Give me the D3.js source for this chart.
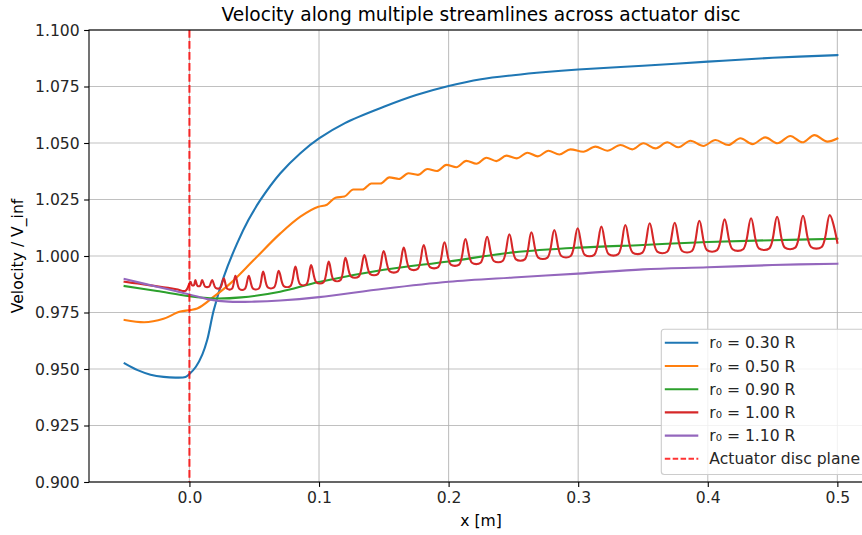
<!DOCTYPE html>
<html>
<head>
<meta charset="utf-8">
<script src="https://cdn.jsdelivr.net/npm/d3@7"></script>
<style>
  body { margin: 0; background: #fff; }
  svg { display: block; font-family: 'DejaVu Sans', sans-serif; }
</style>
</head>
<body>
<script>
(function (d3) {
  'use strict';

  // ---- data (x in m, velocity / V_inf) ----
  const blueX = [-0.05, -0.04, -0.03, -0.02, -0.01, -0.003, 0.0, 0.005, 0.01, 0.0137, 0.0188, 0.0265, 0.0368, 0.0455, 0.0548, 0.07, 0.0856, 0.1, 0.12, 0.15, 0.175, 0.2, 0.225, 0.25, 0.275, 0.3, 0.35, 0.4, 0.45, 0.5];
  const blueV = [0.9525, 0.9495, 0.9475, 0.9465, 0.9462, 0.9465, 0.9478, 0.9510, 0.9565, 0.9628, 0.9761, 0.9908, 1.0056, 1.0159, 1.0248, 1.0365, 1.0455, 1.0520, 1.0588, 1.0660, 1.0712, 1.0752, 1.0782, 1.0800, 1.0814, 1.0825, 1.0842, 1.0860, 1.0877, 1.0889];

  const orangeX = [-0.05, -0.035, -0.02, -0.007, 0.0008, 0.006, 0.0188, 0.0316, 0.0496, 0.0702, 0.0856,
    0.0995, 0.1061, 0.1127, 0.1196, 0.1265, 0.1335, 0.1404, 0.1474, 0.1543, 0.1617, 0.1690, 0.1763,
    0.1836, 0.1910, 0.1983, 0.2060, 0.2137, 0.2215, 0.2292, 0.2369, 0.2446, 0.2527, 0.2608, 0.2689,
    0.2770, 0.2855, 0.2940, 0.3040, 0.3133, 0.3225, 0.3326, 0.3418, 0.3503, 0.3596, 0.3688, 0.3773,
    0.3866, 0.3966, 0.4059, 0.4159, 0.4252, 0.4344, 0.4444, 0.4537, 0.4637, 0.4730, 0.4823, 0.4923, 0.5];
  const orangeV = [0.9717, 0.9707, 0.9722, 0.9754, 0.9761, 0.9768, 0.9820, 0.9879, 0.9982, 1.0100, 1.0174,
    1.0218, 1.0227, 1.0258, 1.0263, 1.0294, 1.0294, 1.0321, 1.0321, 1.0348, 1.0341, 1.0366, 1.0359,
    1.0385, 1.0376, 1.0403, 1.0393, 1.0421, 1.0408, 1.0435, 1.0420, 1.0444, 1.0432, 1.0457, 1.0441,
    1.0466, 1.0449, 1.0472, 1.0461, 1.0484, 1.0466, 1.0491, 1.0472, 1.0499, 1.0476, 1.0503, 1.0481,
    1.0510, 1.0487, 1.0513, 1.0491, 1.0521, 1.0495, 1.0525, 1.0499, 1.0531, 1.0503, 1.0535, 1.0506, 1.0520];

  const greenX = [-0.05, -0.025, 0.0, 0.02, 0.04, 0.07, 0.1, 0.15, 0.2, 0.25, 0.3, 0.35, 0.4, 0.45, 0.5];
  const greenV = [0.9867, 0.9845, 0.9822, 0.9812, 0.9817, 0.9842, 0.9885, 0.9939, 0.9976, 1.0016, 1.0037, 1.0049, 1.0062, 1.0070, 1.0076];

  const purpleX = [-0.05, -0.025, 0.0, 0.015, 0.03, 0.05, 0.07, 0.1, 0.15, 0.2, 0.25, 0.3, 0.35, 0.4, 0.45, 0.5];
  const purpleV = [0.9898, 0.9864, 0.9830, 0.9808, 0.9798, 0.9798, 0.9803, 0.9818, 0.9855, 0.9886, 0.9905, 0.9922, 0.9941, 0.9950, 0.9960, 0.9966];

  // red streamline: smooth part upstream, then peaks and the troughs between them
  const redPreX = [-0.05, -0.04, -0.03, -0.02, -0.01, -0.003];
  const redPreV = [0.9886, 0.9878, 0.9870, 0.9862, 0.9853, 0.9846];
  const redPeakX = [0.0008, 0.0046, 0.0098, 0.0175, 0.0265, 0.0355, 0.0458, 0.0569, 0.0689, 0.0818, 0.0939, 0.1075, 0.1204, 0.1350, 0.1499, 0.1654, 0.1808, 0.1968, 0.2130, 0.2297, 0.2469, 0.2639, 0.2816, 0.2996, 0.3179, 0.3364, 0.3552, 0.3745, 0.3935, 0.4130, 0.4334, 0.4535, 0.4735, 0.4941];
  const redPeakV = [0.9886, 0.9894, 0.9894, 0.9894, 0.9901, 0.9912, 0.9912, 0.9931, 0.9935, 0.9953, 0.9960, 0.9975, 0.9992, 1.0004, 1.0022, 1.0037, 1.0049, 1.0061, 1.0075, 1.0085, 1.0096, 1.0105, 1.0115, 1.0123, 1.0130, 1.0137, 1.0145, 1.0147, 1.0156, 1.0162, 1.0167, 1.0174, 1.0178, 1.0181];
  const redTroughStart = [0.0019, 0.0062, 0.0121, 0.0202, 0.0292, 0.0386, 0.0491, 0.0605, 0.0728, 0.0854, 0.0980, 0.1114, 0.1248, 0.1395, 0.1546, 0.1700, 0.1856, 0.2017, 0.2180, 0.2349, 0.2520, 0.2692, 0.2870, 0.3051, 0.3235, 0.3420, 0.3610, 0.3802, 0.3994, 0.4191, 0.4394, 0.4595, 0.4797];
  const redTroughEnd = [0.0035, 0.0082, 0.0152, 0.0238, 0.0328, 0.0427, 0.0536, 0.0653, 0.0779, 0.0903, 0.1034, 0.1165, 0.1306, 0.1454, 0.1608, 0.1762, 0.1920, 0.2081, 0.2247, 0.2417, 0.2588, 0.2763, 0.2942, 0.3124, 0.3309, 0.3496, 0.3687, 0.3878, 0.4072, 0.4273, 0.4475, 0.4675, 0.4879];
  const redTroughV = [0.9871, 0.9868, 0.9865, 0.9859, 0.9855, 0.9854, 0.9856, 0.9861, 0.9867, 0.9875, 0.9883, 0.9893, 0.9909, 0.9920, 0.9932, 0.9943, 0.9951, 0.9962, 0.9970, 0.9978, 0.9985, 0.9993, 1.0000, 1.0005, 1.0008, 1.0015, 1.0019, 1.0022, 1.0026, 1.0030, 1.0034, 1.0037, 1.0040];
  const redEnd = [0.5, 1.0059];

  const labels = ['r\u2080 = 0.30 R', 'r\u2080 = 0.50 R', 'r\u2080 = 0.90 R', 'r\u2080 = 1.00 R', 'r\u2080 = 1.10 R'];
  const colors = ['#1f77b4', '#ff7f0e', '#2ca02c', '#d62728', '#9467bd'];
  const discLabel = 'Actuator disc plane';
  const discX = 0.0;

  const xTicks = [0.0, 0.1, 0.2, 0.3, 0.4, 0.5];
  const yTicks = [0.9, 0.925, 0.95, 0.975, 1.0, 1.025, 1.05, 1.075, 1.1];
  const xDomain = [-0.0775, 0.5275];
  const yDomain = [0.9, 1.1];

  // ---- build series ----
  const zip = (xs, vs) => xs.map((x, i) => [x, vs[i]]);

  const redPoints = zip(redPreX, redPreV);
  redPeakX.forEach((x, i) => {
    redPoints.push([x, redPeakV[i]]);
    if (i < redTroughV.length) {
      redPoints.push([redTroughStart[i], redTroughV[i]]);
      redPoints.push([redTroughEnd[i], redTroughV[i]]);
    }
  });
  redPoints.push(redEnd);

  const smooth = d3.curveCatmullRom.alpha(0.5);
  const series = [
    { pts: zip(blueX, blueV), curve: smooth },
    { pts: zip(orangeX, orangeV), curve: d3.curveMonotoneX },
    { pts: zip(greenX, greenV), curve: smooth },
    { pts: redPoints, curve: smooth },
    { pts: zip(purpleX, purpleV), curve: smooth },
  ];

  // ---- layout ----
  const width = 862;
  const height = 535;
  const plot = { left: 89, right: 873, top: 30, bottom: 482 };
  const fs = 15.6;

  const xScale = d3.scaleLinear().domain(xDomain).range([plot.left, plot.right]);
  const yScale = d3.scaleLinear().domain(yDomain).range([plot.bottom, plot.top]);

  const svg = d3.select('body')
    .append('svg')
    .attr('width', width)
    .attr('height', height);

  svg.append('rect')
    .attr('width', width)
    .attr('height', height)
    .attr('fill', '#fff');

  // grid
  const grid = svg.append('g').attr('class', 'grid');
  grid.selectAll('.gx')
    .data(xTicks)
    .join('line')
    .attr('class', 'gx')
    .attr('x1', (d) => xScale(d))
    .attr('x2', (d) => xScale(d))
    .attr('y1', plot.top)
    .attr('y2', plot.bottom);
  grid.selectAll('.gy')
    .data(yTicks)
    .join('line')
    .attr('class', 'gy')
    .attr('x1', plot.left)
    .attr('x2', plot.right)
    .attr('y1', (d) => yScale(d))
    .attr('y2', (d) => yScale(d));
  grid.selectAll('line')
    .attr('stroke', '#b0b0b0')
    .attr('stroke-opacity', 0.8)
    .attr('stroke-width', 1.1);

  // lines
  svg.append('g')
    .selectAll('path')
    .data(series)
    .join('path')
    .attr('d', (s) => d3.line()
      .x((d) => xScale(d[0]))
      .y((d) => yScale(d[1]))
      .curve(s.curve)(s.pts))
    .attr('fill', 'none')
    .attr('stroke', (d, i) => colors[i])
    .attr('stroke-width', 2.1)
    .attr('stroke-linejoin', 'round')
    .attr('stroke-linecap', 'square');

  // actuator disc plane
  svg.append('line')
    .attr('x1', xScale(discX))
    .attr('x2', xScale(discX))
    .attr('y1', plot.top)
    .attr('y2', plot.bottom)
    .attr('stroke', '#ff0000')
    .attr('stroke-opacity', 0.8)
    .attr('stroke-width', 2.1)
    .attr('stroke-dasharray', '7.7,3.3');

  // axes
  const xAxis = svg.append('g')
    .attr('transform', `translate(0,${plot.bottom})`)
    .call(d3.axisBottom(xScale).tickValues(xTicks).tickFormat(d3.format('.1f')).tickSize(4.9).tickPadding(5.5));
  const yAxis = svg.append('g')
    .attr('transform', `translate(${plot.left},0)`)
    .call(d3.axisLeft(yScale).tickValues(yTicks).tickFormat(d3.format('.3f')).tickSize(4.9).tickPadding(4.4));

  [xAxis, yAxis].forEach((ax) => {
    ax.select('.domain').remove();
    ax.selectAll('.tick line').attr('stroke', '#000').attr('stroke-width', 1.1);
    ax.selectAll('.tick text')
      .attr('fill', '#262626')
      .style('font-family', "'DejaVu Sans', sans-serif")
      .style('font-size', fs + 'px');
  });

  // spines
  svg.append('rect')
    .attr('x', plot.left)
    .attr('y', plot.top)
    .attr('width', plot.right - plot.left)
    .attr('height', plot.bottom - plot.top)
    .attr('fill', 'none')
    .attr('stroke', '#000')
    .attr('stroke-width', 1.1);

  // title and axis labels
  const midX = (plot.left + plot.right) / 2;
  svg.append('text')
    .attr('x', midX)
    .attr('y', 21)
    .attr('text-anchor', 'middle')
    .style('font-size', '18.6px')
    .attr('fill', '#000')
    .text('Velocity along multiple streamlines across actuator disc');

  svg.append('text')
    .attr('x', midX)
    .attr('y', 526)
    .attr('text-anchor', 'middle')
    .style('font-size', fs + 'px')
    .attr('fill', '#000')
    .text('x [m]');

  svg.append('text')
    .attr('transform', `translate(23,${(plot.top + plot.bottom) / 2}) rotate(-90)`)
    .attr('text-anchor', 'middle')
    .style('font-size', fs + 'px')
    .attr('fill', '#000')
    .text('Velocity / V_inf');

  // legend (lower right)
  const entries = labels.map((l, i) => ({ label: l, color: colors[i], dash: null }))
    .concat([{ label: discLabel, color: '#ff0000', dash: '5.5,2.4' }]);
  const rowH = 23.2;
  const legRight = plot.right - 7;
  const legBottom = plot.bottom - 7.5;
  const legHeight = entries.length * rowH + 6;
  const legend = svg.append('g');
  const legRect = legend.append('rect')
    .attr('y', legBottom - legHeight)
    .attr('height', legHeight)
    .attr('rx', 3)
    .attr('fill', '#fff')
    .attr('fill-opacity', 0.8)
    .attr('stroke', '#cccccc')
    .attr('stroke-width', 1.1);

  const rows = legend.selectAll('.entry')
    .data(entries)
    .join('g')
    .attr('class', 'entry')
    .attr('transform', (d, i) => `translate(0,${legBottom - legHeight + 13.5 + i * rowH})`);

  const texts = rows.append('text')
    .attr('y', 5.6)
    .style('font-size', fs + 'px')
    .attr('fill', '#262626')
    .text((d) => d.label);

  const maxW = d3.max(texts.nodes(), (n) => n.getComputedTextLength());
  const legLeft = legRight - (maxW + 48 + 6);
  legRect.attr('x', legLeft).attr('width', legRight - legLeft);
  texts.attr('x', legLeft + 48);
  rows.append('line')
    .attr('x1', legLeft + 3.5)
    .attr('x2', legLeft + 37)
    .attr('stroke', (d) => d.color)
    .attr('stroke-opacity', (d) => (d.dash ? 0.8 : 1))
    .attr('stroke-width', 2.1)
    .attr('stroke-dasharray', (d) => d.dash);
}(d3));
</script>
</body>
</html>
